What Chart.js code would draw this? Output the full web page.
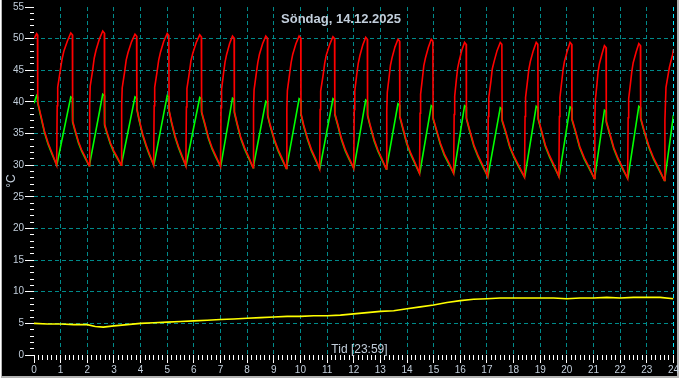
<!DOCTYPE html>
<html><head><meta charset="utf-8">
<script src="https://cdn.jsdelivr.net/npm/chart.js@4.4.1/dist/chart.umd.min.js"></script>
<style>html,body{margin:0;padding:0;background:#fff;}canvas{display:block;}</style>
</head><body>
<canvas id="c" width="680" height="380"></canvas>
<script>
// ---- texts ----
const chartTitle = 'Söndag, 14.12.2025';
const xAxisLabel = 'Tid [23:59]';
const yAxisLabel = '°C';

// ---- axis ranges (hours / °C) ----
const xHours = [0, 24];
const yRange = [0, 55];

// ---- red series: [hour, °C] ----
const redSeries = [
[0,50.0],[0.05,50.4],[0.10,50.8],[0.13,50.6],[0.14,40.0],[0.25,38.0],[0.39,35.4],[0.53,33.5],[0.67,32.0],
[0.85,30.0],[0.87,39.4],[0.89,42.3],[0.98,44.8],[1.05,46.7],[1.12,48.0],[1.25,49.6],[1.38,50.9],[1.44,50.6],[1.45,37.0],[1.54,35.6],[1.67,33.7],[1.79,32.4],[1.92,31.3],
[2.07,29.9],[2.09,39.5],[2.11,42.5],[2.20,45.0],[2.26,46.9],[2.33,48.2],[2.45,49.9],[2.58,51.2],[2.64,50.9],[2.65,36.5],[2.74,35.2],[2.87,33.5],[2.99,32.3],[3.12,31.3],
[3.27,30.0],[3.29,39.3],[3.31,42.2],[3.40,44.7],[3.46,46.6],[3.53,47.8],[3.66,49.5],[3.79,50.7],[3.85,50.4],[3.86,39.0],[3.95,37.2],[4.08,34.9],[4.21,33.2],[4.33,31.8],
[4.49,30.0],[4.51,39.4],[4.53,42.3],[4.62,44.8],[4.68,46.6],[4.75,47.9],[4.87,49.6],[5.00,50.8],[5.06,50.5],[5.07,38.7],[5.16,36.9],[5.29,34.7],[5.42,33.0],[5.54,31.7],
[5.70,29.9],[5.72,39.2],[5.74,42.1],[5.83,44.6],[5.89,46.5],[5.96,47.7],[6.09,49.4],[6.22,50.6],[6.28,50.3],[6.29,38.5],[6.40,36.8],[6.54,34.5],[6.68,32.8],[6.82,31.5],
[7.00,29.8],[7.02,39.1],[7.04,42.0],[7.11,44.4],[7.17,46.3],[7.23,47.5],[7.34,49.2],[7.45,50.4],[7.51,50.1],[7.52,38.5],[7.62,36.7],[7.76,34.4],[7.91,32.7],[8.05,31.4],
[8.22,29.6],[8.24,39.0],[8.26,41.9],[8.34,44.4],[8.40,46.2],[8.46,47.5],[8.58,49.2],[8.70,50.4],[8.76,50.1],[8.77,38.0],[8.87,36.3],[9.02,34.1],[9.16,32.5],[9.30,31.2],
[9.47,29.5],[9.49,38.9],[9.51,41.8],[9.59,44.3],[9.65,46.2],[9.71,47.5],[9.83,49.2],[9.95,50.4],[10.01,50.1],[10.02,38.2],[10.12,36.4],[10.27,34.2],[10.41,32.5],[10.55,31.2],
[10.72,29.4],[10.74,38.8],[10.76,41.7],[10.85,44.2],[10.91,46.1],[10.97,47.4],[11.10,49.1],[11.22,50.3],[11.28,50.0],[11.29,38.2],[11.40,36.5],[11.54,34.2],[11.68,32.5],[11.82,31.2],
[12.00,29.5],[12.02,38.8],[12.04,41.7],[12.11,44.2],[12.17,46.1],[12.23,47.3],[12.34,49.0],[12.45,50.2],[12.51,49.9],[12.52,38.0],[12.62,36.3],[12.77,34.0],[12.91,32.4],[13.05,31.1],
[13.22,29.4],[13.24,38.6],[13.26,41.5],[13.33,44.0],[13.38,45.8],[13.44,47.0],[13.55,48.7],[13.66,49.9],[13.72,49.6],[13.73,37.8],[13.84,36.0],[13.99,33.6],[14.14,31.9],[14.29,30.5],
[14.47,28.7],[14.49,38.2],[14.51,41.2],[14.58,43.8],[14.63,45.7],[14.69,46.9],[14.80,48.6],[14.91,49.9],[14.97,49.6],[14.98,37.5],[15.10,35.7],[15.25,33.5],[15.40,31.8],[15.56,30.5],
[15.75,28.7],[15.77,38.0],[15.79,40.9],[15.85,43.4],[15.90,45.3],[15.96,46.5],[16.06,48.2],[16.16,49.4],[16.22,49.1],[16.23,37.5],[16.35,35.6],[16.51,33.2],[16.67,31.5],[16.83,30.1],
[17.03,28.2],[17.05,37.7],[17.07,40.7],[17.15,43.3],[17.20,45.2],[17.27,46.4],[17.38,48.1],[17.50,49.4],[17.56,49.1],[17.57,37.2],[17.70,35.4],[17.86,33.0],[18.03,31.3],[18.20,29.9],
[18.41,28.1],[18.43,37.7],[18.45,40.7],[18.52,43.2],[18.57,45.1],[18.63,46.4],[18.74,48.1],[18.85,49.4],[18.91,49.1],[18.92,37.5],[19.04,35.6],[19.19,33.2],[19.35,31.5],[19.51,30.1],
[19.70,28.2],[19.72,37.7],[19.74,40.7],[19.81,43.3],[19.86,45.2],[19.91,46.4],[20.02,48.1],[20.12,49.4],[20.18,49.1],[20.19,37.4],[20.32,35.5],[20.48,33.0],[20.65,31.2],[20.82,29.8],
[21.03,27.9],[21.05,37.4],[21.07,40.3],[21.13,42.8],[21.17,44.7],[21.22,46.0],[21.32,47.6],[21.41,48.9],[21.47,48.6],[21.48,37.0],[21.60,35.2],[21.76,32.8],[21.92,31.1],[22.08,29.7],
[22.28,27.9],[22.30,37.5],[22.32,40.5],[22.39,43.0],[22.44,44.9],[22.49,46.2],[22.60,47.9],[22.70,49.2],[22.76,48.9],[22.77,37.5],[22.90,35.5],[23.08,33.0],[23.26,31.1],[23.44,29.6],
[23.66,27.6],[23.68,37.1],[23.72,42.3],[23.85,45.5],[23.97,47.5],[24.0,48.3]
];

// ---- green series: [hour, °C] ----
const greenSeries = [
[0,39.8],[0.10,41.0],[0.13,40.8],[0.14,39.8],[0.25,37.8],[0.39,35.2],[0.53,33.3],[0.67,31.8],
[0.85,30.0],[0.87,30.3],[1.38,40.8],[1.44,40.6],[1.45,36.8],[1.54,35.4],[1.67,33.5],[1.79,32.2],[1.92,31.1],
[2.07,29.9],[2.09,30.2],[2.58,41.2],[2.64,41.0],[2.65,36.3],[2.74,35.0],[2.87,33.3],[2.99,32.1],[3.12,31.1],
[3.27,30.0],[3.29,30.3],[3.79,40.8],[3.85,40.6],[3.86,38.8],[3.95,37.0],[4.08,34.7],[4.21,33.0],[4.33,31.6],
[4.49,30.0],[4.51,30.3],[5.00,41.0],[5.06,40.8],[5.07,38.5],[5.16,36.7],[5.29,34.5],[5.42,32.8],[5.54,31.5],
[5.70,29.9],[5.72,30.2],[6.22,40.7],[6.28,40.5],[6.29,38.3],[6.40,36.6],[6.54,34.3],[6.68,32.6],[6.82,31.3],
[7.00,29.8],[7.02,30.1],[7.45,40.6],[7.51,40.4],[7.52,38.3],[7.62,36.5],[7.76,34.2],[7.91,32.5],[8.05,31.2],
[8.22,29.6],[8.24,29.9],[8.70,40.1],[8.76,39.9],[8.77,37.8],[8.87,36.1],[9.02,33.9],[9.16,32.3],[9.30,31.0],
[9.47,29.5],[9.49,29.8],[9.95,40.5],[10.01,40.3],[10.02,38.0],[10.12,36.2],[10.27,34.0],[10.41,32.3],[10.55,31.0],
[10.72,29.4],[10.74,29.7],[11.22,40.5],[11.28,40.3],[11.29,38.0],[11.40,36.3],[11.54,34.0],[11.68,32.3],[11.82,31.0],
[12.00,29.5],[12.02,29.8],[12.45,40.3],[12.51,40.1],[12.52,37.8],[12.62,36.1],[12.77,33.8],[12.91,32.2],[13.05,30.9],
[13.22,29.4],[13.24,29.7],[13.66,39.7],[13.72,39.5],[13.73,37.6],[13.84,35.8],[13.99,33.4],[14.14,31.7],[14.29,30.3],
[14.47,28.7],[14.49,29.0],[14.91,39.4],[14.97,39.2],[14.98,37.3],[15.10,35.5],[15.25,33.3],[15.40,31.6],[15.56,30.3],
[15.75,28.7],[15.77,29.0],[16.16,39.4],[16.22,39.2],[16.23,37.3],[16.35,35.4],[16.51,33.0],[16.67,31.3],[16.83,29.9],
[17.03,28.2],[17.05,28.5],[17.50,39.1],[17.56,38.9],[17.57,37.0],[17.70,35.2],[17.86,32.8],[18.03,31.1],[18.20,29.7],
[18.41,28.1],[18.43,28.4],[18.85,39.3],[18.91,39.1],[18.92,37.3],[19.04,35.4],[19.19,33.0],[19.35,31.3],[19.51,29.9],
[19.70,28.2],[19.72,28.5],[20.12,39.2],[20.18,39.0],[20.19,37.2],[20.32,35.3],[20.48,32.8],[20.65,31.0],[20.82,29.6],
[21.03,27.9],[21.05,28.2],[21.41,38.7],[21.47,38.5],[21.48,36.8],[21.60,35.0],[21.76,32.6],[21.92,30.9],[22.08,29.5],
[22.28,27.9],[22.30,28.2],[22.70,39.3],[22.76,39.1],[22.77,37.3],[22.90,35.3],[23.08,32.8],[23.26,30.9],[23.44,29.4],
[23.66,27.6],[23.68,27.9],[24.0,37.9]
];

// ---- yellow (outdoor) series: [hour, °C] ----
const outdoorSeries = [
[0,5.0],[0.5,4.9],[1.0,4.9],[1.5,4.8],[2.0,4.8],[2.3,4.5],[2.6,4.4],[3.0,4.6],[3.5,4.8],[4.0,5.0],
[4.5,5.1],[5.0,5.2],[5.5,5.3],[6.0,5.4],[6.5,5.5],[7.0,5.6],[7.5,5.7],[8.0,5.8],[8.5,5.9],[9.0,6.0],
[9.5,6.1],[10.0,6.1],[10.5,6.2],[11.0,6.2],[11.5,6.3],[12.0,6.5],[12.5,6.7],[13.0,6.9],[13.5,7.0],[14.0,7.3],
[14.5,7.6],[15.0,7.9],[15.5,8.3],[16.0,8.6],[16.5,8.8],[17.0,8.9],[17.5,9.0],[18.0,9.0],[18.5,9.0],[19.0,9.0],
[19.5,9.0],[20.0,8.9],[20.5,9.0],[21.0,9.0],[21.5,9.1],[22.0,9.0],[22.5,9.1],[23.0,9.1],[23.5,9.1],[24.0,8.9]
];

// ---- style ----
const TEXT = '#c2cedb';
const GRID = '#008a8a';
const NOW = '#00e8ff';
const CLEAR = 'rgba(0,0,0,0)';
Chart.defaults.font.family = '"Liberation Sans", Arial, sans-serif';

const toXY = s => s.map(p => ({x: p[0] * 60, y: p[1]}));

const bgPlugin = {
  id: 'bg',
  beforeDraw(chart) {
    const ctx = chart.ctx;
    ctx.save();
    ctx.fillStyle = '#ffffff'; ctx.fillRect(0, 0, 680, 380);
    ctx.fillStyle = '#b4b4b4'; ctx.fillRect(1, 0, 678, 378);
    ctx.fillStyle = '#000000'; ctx.fillRect(2, 0, 675, 376);
    ctx.restore();
  }
};
const textPlugin = {
  id: 'texts',
  afterDraw(chart) {
    const ctx = chart.ctx;
    ctx.save();
    ctx.fillStyle = TEXT;
    ctx.textAlign = 'center';
    ctx.textBaseline = 'alphabetic';
    ctx.font = 'bold 13px "Liberation Sans", Arial, sans-serif';
    ctx.fillText(chartTitle, 341, 22.5);
    ctx.font = '12px "Liberation Sans", Arial, sans-serif';
    ctx.fillText(xAxisLabel, 359.5, 353);
    ctx.restore();
  }
};

const line = (data, color) => ({data: toXY(data), borderColor: color, borderWidth: 1.6, pointRadius: 0, tension: 0, fill: false});

new Chart(document.getElementById('c'), {
  type: 'line',
  data: {datasets: [line(redSeries, '#ff0000'), line(greenSeries, '#00ff00'), line(outdoorSeries, '#ffff00')]},
  options: {
    responsive: false, animation: false, devicePixelRatio: 1,
    layout: {padding: {left: 0, top: 4, right: 5, bottom: 0}, autoPadding: false},
    plugins: {legend: {display: false}, tooltip: {enabled: false}, title: {display: false}},
    scales: {
      x: {
        type: 'linear', min: xHours[0] * 60, max: xHours[1] * 60,
        afterFit(s) { s.height = 25; },
        ticks: {stepSize: 10, autoSkip: false, maxRotation: 0, minRotation: 0, color: TEXT, padding: 1,
          font: {size: 10}, callback: v => (v % 60 === 0 ? String(v / 60) : '')},
        grid: {
          color: c => { const v = c.tick ? c.tick.value : -1; if (v % 60 !== 0 || v === 0) return CLEAR; return v === 1440 ? NOW : GRID; },
          tickColor: '#ffffff', tickLength: 8, tickWidth: 1,
          tickBorderDash: c => (c.tick && c.tick.value % 60 === 0 ? [] : [5, 100])
        },
        border: {display: false, dash: [4, 3]}
      },
      y: {
        type: 'linear', min: yRange[0], max: yRange[1],
        afterFit(s) { s.width = 34; },
        ticks: {stepSize: 1, autoSkip: false, color: TEXT, padding: 1, font: {size: 10},
          callback: v => (v % 5 === 0 ? String(v) : '')},
        grid: {
          color: c => { const v = c.tick ? c.tick.value : -1; return (v % 5 === 0 && v > 0 && v < 55) ? GRID : CLEAR; },
          tickColor: '#ffffff', tickLength: 9, tickWidth: 1,
          tickBorderDash: c => (c.tick && c.tick.value % 5 === 0 ? [] : [0, 5, 4, 100])
        },
        border: {display: false, dash: [4, 3]},
        title: {display: true, text: yAxisLabel, color: TEXT, font: {size: 12}, padding: {top: 4, bottom: 0}}
      }
    }
  },
  plugins: [bgPlugin, textPlugin]
});
</script>
</body></html>
